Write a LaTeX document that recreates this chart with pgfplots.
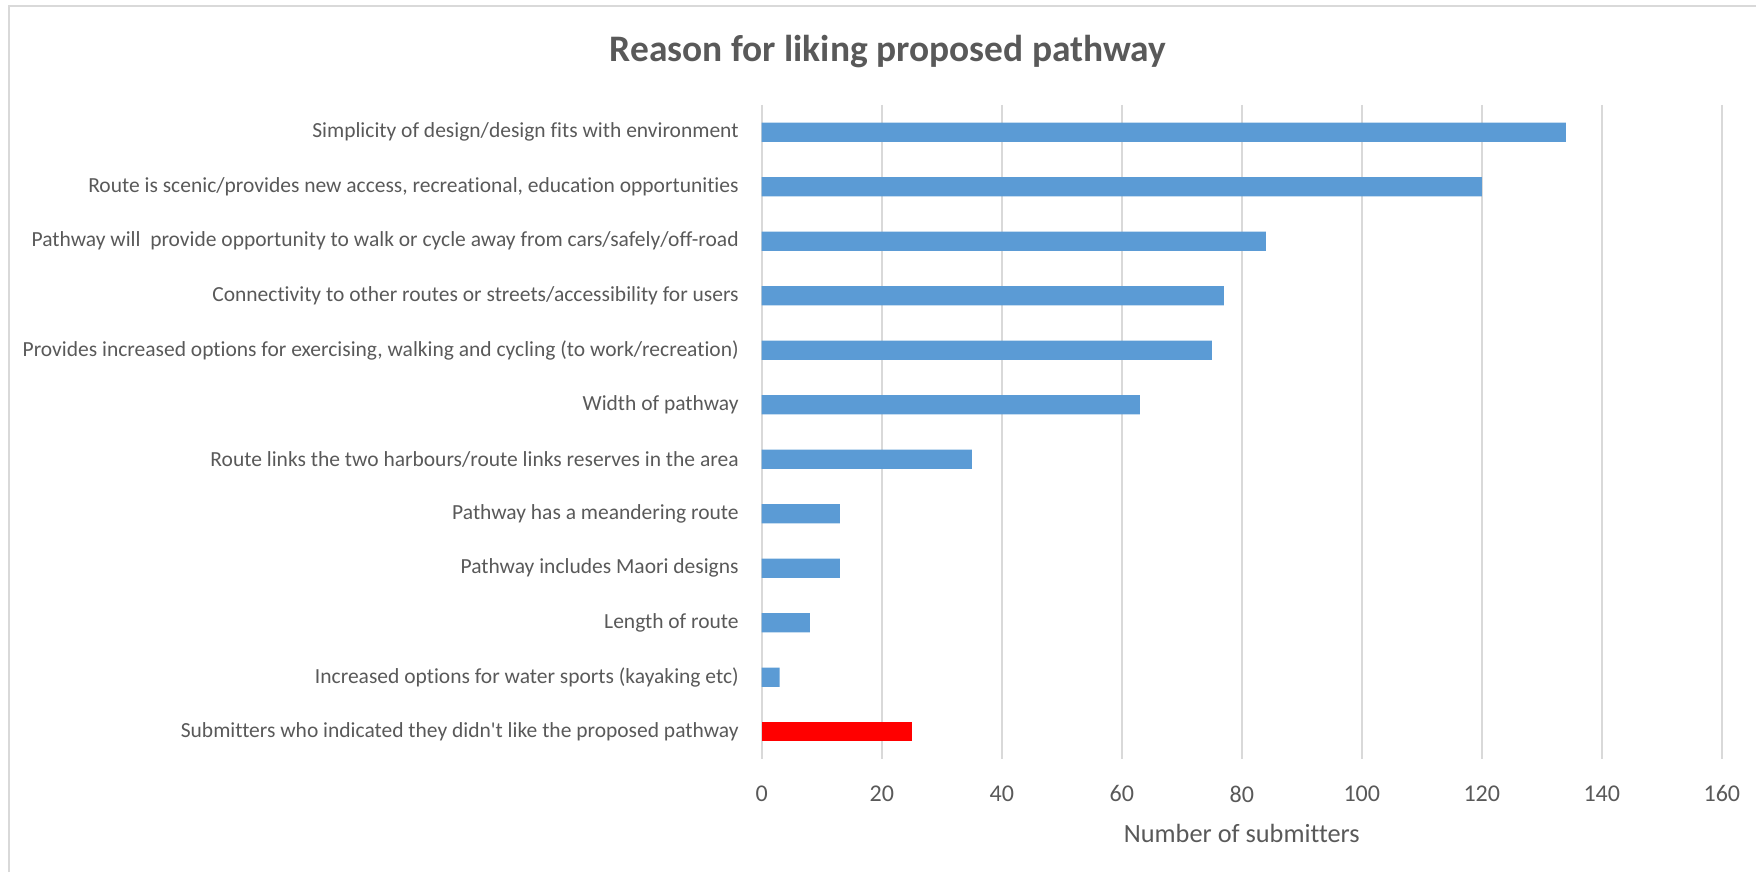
\documentclass[border=0pt]{standalone}
\usepackage{pgfplots}
\pgfplotsset{compat=1.18}
\usepackage{fontspec}
\defaultfontfeatures{}
\setmainfont{Carlito}[Ligatures={NoCommon,TeXOff}]
\definecolor{barblue}{HTML}{5B9BD5}
\definecolor{barred}{HTML}{FF0000}
\definecolor{gridgray}{HTML}{D9D9D9}
\definecolor{txtgray}{HTML}{595959}

\begin{document}
\begin{tikzpicture}
\useasboundingbox (0,0) rectangle (694.1pt,344.7pt);
\draw[gridgray, line width=0.8pt] (3.4pt,0) -- (3.4pt,342.5pt) -- (694.1pt,342.5pt);
\node[anchor=base, font=\bfseries\fontsize{14.8}{17}\selectfont, text=txtgray]
  at (351pt,320.3pt) {Reason for liking proposed pathway};
\begin{axis}[
    at={(301.1pt,44.7pt)}, anchor=south west,
    scale only axis,
    width=379.5pt, height=258.5pt,
    xbar, bar width=7.6pt,
    xmin=0, xmax=160,
    xtick={0,20,...,160},
    ymin=-0.5, ymax=11.5,
    y dir=reverse,
    ytick={0,...,11},
    yticklabels={
      {Simplicity of design/design fits with environment\ },
      {Route is scenic/provides new access, recreational, education opportunities},
      {Pathway will\ \ provide opportunity to walk or cycle away from cars/safely/off-road\ },
      {Connectivity to other routes or streets/accessibility for users},
      {Provides increased options for exercising, walking and cycling (to work/recreation)},
      {Width of pathway},
      {Route links the two harbours/route links reserves in the area},
      {Pathway has a meandering route},
      {Pathway includes Maori designs\ },
      {Length of route},
      {Increased options for water sports (kayaking etc)},
      {Submitters who indicated they didn't like the proposed pathway}},
    xmajorgrids,
    grid style={gridgray, line width=0.8pt},
    axis line style={draw=none},
    major tick length=0pt,
    tick label style={text=txtgray},
    yticklabel style={xshift=-5.6pt, font=\fontsize{8.5}{10}\selectfont},
    xticklabel style={yshift=-7pt, font=\fontsize{9.5}{11}\selectfont},
    /pgf/number format/assume math mode=true,
    xlabel={Number of submitters},
    xlabel style={font=\fontsize{10.4}{12}\selectfont, text=txtgray, at={(0.5,0)}, anchor=base, yshift=-33pt},
]
\addplot[fill=barblue, draw=none, bar shift=0pt] coordinates {
    (134,0) (120,1) (84,2) (77,3) (75,4) (63,5)
    (35,6) (13,7) (13,8) (8,9) (3,10)
};
\addplot[fill=barred, draw=none, bar shift=0pt] coordinates {
    (25,11)
};
\end{axis}
\end{tikzpicture}
\end{document}
